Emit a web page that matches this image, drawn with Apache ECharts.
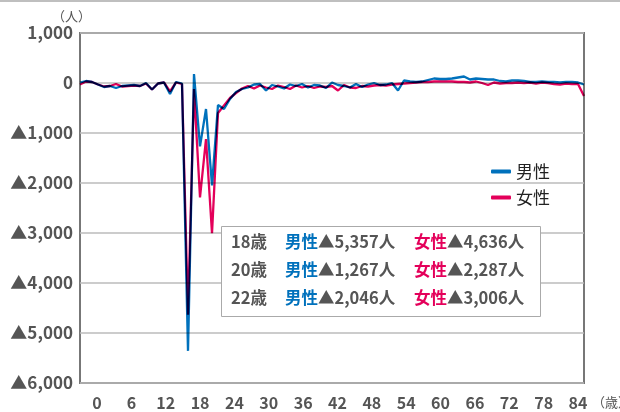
<!DOCTYPE html>
<html>
<head>
<meta charset="utf-8">
<script src="https://cdn.jsdelivr.net/npm/echarts@6/dist/echarts.min.js"></script>
<style>
  html, body { margin: 0; padding: 0; background: #fff; }
  #chart { width: 620px; height: 412px; }
</style>
</head>
<body>
<div id="chart"></div>
<script>
// 年齢（0〜84歳）
var ages = [];
for (var i = 0; i <= 84; i++) ages.push(i);

// 男性の増減（人）
var maleValues = [
  10, 40, 20, -30, -80, -60, -100, -60, -50, -40,
  -60, 0, -130, -10, 10, -220, 20, -10, -5357, 180,
  -1267, -520, -2046, -440, -520, -320, -180, -120, -90, -30,
  -20, -150, -40, -70, -110, -30, -60, -20, -90, -40,
  -50, -100, 10, -40, -60, -90, -20, -80, -30, 0,
  -40, -30, 0, -150, 50, 30, 20, 30, 60, 90,
  80, 80, 90, 110, 130, 70, 90, 80, 70, 70,
  40, 30, 50, 50, 40, 20, 20, 30, 20, 20,
  10, 20, 20, 10, -30
];

// 女性の増減（人）
var femaleValues = [
  -30, 30, 20, -30, -70, -60, -20, -70, -60, -50,
  -60, -10, -130, -10, 10, -170, 10, -20, -4636, -120,
  -2287, -1120, -3006, -600, -450, -300, -200, -110, -60, -110,
  -50, -90, -120, -50, -80, -120, -50, -90, -60, -100,
  -70, -80, -60, -150, -40, -90, -100, -60, -70, -50,
  -40, -50, -30, -20, -10, 0, 10, 20, 20, 30,
  30, 30, 30, 20, 20, 10, 30, 0, -40, 10,
  -10, 0, 0, 10, 0, 10, -10, 10, 0, -20,
  -30, -10, -20, -20, -260
];

// 横軸の目盛ラベル
var xTickLabels = [0, 6, 12, 18, 24, 30, 36, 42, 48, 54, 60, 66, 72, 78, 84];

// 注記（18・20・22歳）
var noteAges = ['18歳', '20歳', '22歳'];
var noteMale = ['▲5,357人', '▲1,267人', '▲2,046人'];
var noteFemale = ['▲4,636人', '▲2,287人', '▲3,006人'];

var blue = '#0071bc';
var pink = '#e4005a';
var gray = '#555';
var font = '"Noto Sans CJK JP", "Noto Sans", sans-serif';

function fmtY(v) {
  var s = Math.abs(v).toLocaleString('en-US');
  return v < 0 ? '▲' + s : s;
}

// 注記ボックス
var noteGraphics = [{
  type: 'rect',
  shape: { x: 221.5, y: 226.5, width: 319, height: 90 },
  style: { fill: '#fff', stroke: '#aaa', lineWidth: 1 },
  z: 100
}];
noteAges.forEach(function (a, i) {
  var y = 242 + i * 28;
  noteGraphics.push({
    type: 'text', x: 231, y: y, z: 101,
    style: { text: a, fill: gray, font: 'bold 16.5px ' + font, verticalAlign: 'middle' }
  });
  noteGraphics.push({
    type: 'text', x: 285, y: y, z: 101,
    style: {
      text: '{g|男性}{v|' + noteMale[i] + '}', verticalAlign: 'middle',
      rich: {
        g: { fill: blue, font: 'bold 16.5px ' + font },
        v: { fill: gray, font: 'bold 16.5px ' + font }
      }
    }
  });
  noteGraphics.push({
    type: 'text', x: 414, y: y, z: 101,
    style: {
      text: '{g|女性}{v|' + noteFemale[i] + '}', verticalAlign: 'middle',
      rich: {
        g: { fill: pink, font: 'bold 16.5px ' + font },
        v: { fill: gray, font: 'bold 16.5px ' + font }
      }
    }
  });
});

var chart = echarts.init(document.getElementById('chart'), null, { renderer: 'canvas' });
chart.setOption({
  animation: false,
  backgroundColor: '#fff',
  textStyle: { fontFamily: font },
  grid: {
    left: 80, right: 36, top: 33, bottom: 29,
    show: true, borderColor: '#777', borderWidth: 2, backgroundColor: 'transparent'
  },
  legend: {
    orient: 'vertical',
    left: 486, top: 158,
    itemWidth: 20, itemHeight: 4, itemGap: 9,
    icon: 'roundRect',
    textStyle: { fontSize: 17, color: '#222', fontFamily: font },
    data: ['男性', '女性']
  },
  xAxis: [{
    type: 'category',
    data: ages,
    boundaryGap: false,
    axisLine: { show: false },
    axisTick: { show: false },
    axisLabel: { show: false },
    splitLine: { show: false }
  }, {
    // 目盛ラベル用
    type: 'value',
    position: 'bottom',
    min: -2.97,
    max: 85.05,
    axisLine: { show: false },
    axisTick: { show: false },
    splitLine: { show: false },
    axisLabel: {
      customValues: xTickLabels,
      margin: 12,
      color: gray,
      fontSize: 16,
      fontWeight: 'bold',
      fontFamily: font
    }
  }],
  yAxis: {
    type: 'value',
    min: -6000, max: 1000, interval: 1000,
    axisLine: { show: false },
    axisTick: { show: false },
    splitLine: { lineStyle: { color: '#bbb', width: 1.5 } },
    axisLabel: {
      formatter: fmtY,
      margin: 7,
      padding: [7, 0, 0, 0],
      color: gray,
      fontSize: 17,
      fontWeight: 'bold',
      fontFamily: font
    }
  },
  series: [{
    name: '男性',
    type: 'line',
    data: maleValues,
    symbol: 'none',
    blendMode: 'multiply',
    itemStyle: { color: blue },
    lineStyle: { color: blue, width: 2.3 }
  }, {
    name: '女性',
    type: 'line',
    data: femaleValues,
    symbol: 'none',
    blendMode: 'multiply',
    itemStyle: { color: pink },
    lineStyle: { color: pink, width: 2.3 }
  }],
  graphic: [{
    type: 'line',
    shape: { x1: 0, y1: 1, x2: 620, y2: 1 },
    style: { stroke: '#aaa', lineWidth: 1.5 }
  }, {
    type: 'text', x: 52, y: 16,
    style: { text: '（人）', fill: gray, font: '13px ' + font, verticalAlign: 'middle' }
  }, {
    type: 'text', x: 592, y: 402,
    style: { text: '（歳）', fill: gray, font: '13px ' + font, verticalAlign: 'middle' }
  }].concat(noteGraphics)
});
</script>
</body>
</html>
